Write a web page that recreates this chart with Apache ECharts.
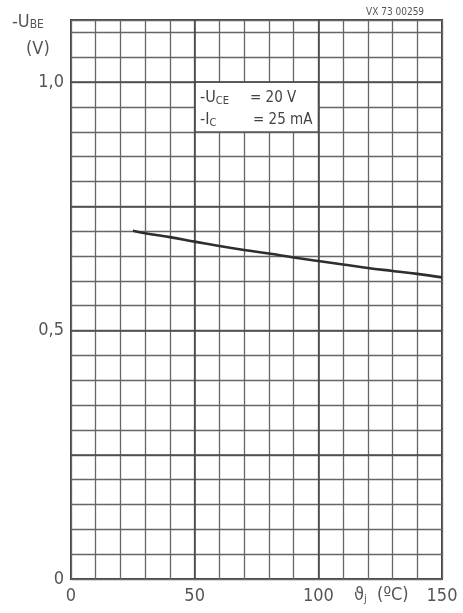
<!DOCTYPE html>
<html><head><meta charset="utf-8">
<script src="https://cdn.jsdelivr.net/npm/echarts@6/dist/echarts.min.js"></script>
<style>html,body{margin:0;padding:0;background:#fff}#c{width:463px;height:613px}</style>
</head><body><div id="c"></div>
<script>
// junction temperature (°C)
const tempC = [25, 30, 40, 50, 60, 70, 80, 90, 100, 110, 120, 130, 140, 150];
// -U_BE (V)
const ubeV = [0.701, 0.696, 0.688, 0.679, 0.670, 0.662, 0.655, 0.647, 0.640, 0.633, 0.626, 0.620, 0.614, 0.607];
const xTickValues = [0, 50, 100, 150];
const xTickLabels = ['0', '50', '100', '150'];
const yTickValues = [0, 0.5, 1.0];
const yTickLabels = ['0', '0,5', '1,0'];
const majorY = [0.25, 0.5, 0.75, 1.0];
const majorX = [50, 100];
const conditionLines = [['-U', 'CE', '= 20 V'], ['-I', 'C', '= 25 mA']];
const conditionBox = [[50, 0.9], [100, 1.0]];

const FONT = '"DejaVu Sans Condensed","Liberation Sans",sans-serif';
const TXT = '#555';
const chart = echarts.init(document.getElementById('c'));

function labelFor(vals, labs, v) {
  for (let i = 0; i < vals.length; i++) if (Math.abs(vals[i] - v) < 1e-9) return labs[i];
  return '';
}

const graphics = [
  { type: 'text', z: 100, left: 12, top: 13, style: { rich: { a: { fontSize: 18, fontFamily: FONT, fill: TXT }, s: { fontSize: 12, fontFamily: FONT, fill: TXT, padding: [6, 0, 0, 0] } }, text: '{a|-U}{s|BE}' } },
  { type: 'text', z: 100, left: 26, top: 40, style: { text: '(V)', fontSize: 18, fontFamily: FONT, fill: TXT } },
  { type: 'text', z: 100, left: 366, top: 7, style: { text: 'VX 73 00259', fontSize: 10, fontFamily: FONT, fill: TXT } },
  { type: 'text', z: 100, left: 354, top: 586, style: { rich: { a: { fontSize: 18, fontFamily: FONT, fill: TXT }, s: { fontSize: 11, fontFamily: FONT, fill: TXT, padding: [8, 0, 0, 0] } }, text: '{a|ϑ}{s|j}{a|  (ºC)}' } }
];
conditionLines.forEach((ln, i) => {
  graphics.push({ type: 'text', z: 100, left: 200, top: 90 + i * 22, style: { rich: { a: { fontSize: 16, fontFamily: FONT, fill: '#444' }, s: { fontSize: 11, fontFamily: FONT, fill: '#444', padding: [7, 0, 0, 0] } }, text: '{a|' + ln[0] + '}{s|' + ln[1] + '}' } });
  graphics.push({ type: 'text', z: 100, left: 250 + i * 3, top: 91 + i * 22, style: { text: ln[2], fontSize: 15, fontFamily: FONT, fill: '#444' } });
});

chart.setOption({
  animation: false,
  backgroundColor: '#fff',
  grid: { left: 71, right: 21, top: 20, bottom: 34, show: true, borderColor: '#444', borderWidth: 2, backgroundColor: 'transparent' },
  xAxis: {
    type: 'value', min: 0, max: 150, interval: 10,
    axisLine: { show: false }, axisTick: { show: false },
    splitLine: { show: true, lineStyle: { color: '#666', width: 1.3 } },
    axisLabel: { margin: 8, fontSize: 18, fontFamily: FONT, color: TXT, formatter: v => labelFor(xTickValues, xTickLabels, v) }
  },
  yAxis: {
    type: 'value', min: 0, max: 1.125, interval: 0.05,
    axisLine: { show: false }, axisTick: { show: false },
    splitLine: { show: true, lineStyle: { color: '#666', width: 1.3 } },
    axisLabel: { margin: 7, fontSize: 18, fontFamily: FONT, color: TXT, formatter: v => labelFor(yTickValues, yTickLabels, v) }
  },
  graphic: graphics,
  series: [
    {
      type: 'line', data: [], silent: true, z: 3,
      markArea: { silent: true, itemStyle: { color: '#fff', borderColor: '#555', borderWidth: 1.3 },
        data: [[{ coord: conditionBox[0] }, { coord: conditionBox[1] }]] }
    },
    {
      type: 'line', data: [], silent: true, z: 4,
      markLine: { silent: true, symbol: ['none', 'none'], label: { show: false },
        lineStyle: { color: '#4a4a4a', width: 1.6, type: 'solid' },
        data: majorY.map(v => ({ yAxis: v })).concat(majorX.map(v => ({ xAxis: v }))) }
    },
    {
      type: 'line', z: 5, smooth: 0.4, showSymbol: false, symbol: 'none',
      data: tempC.map((t, i) => [t, ubeV[i]]),
      lineStyle: { color: '#2e2e2e', width: 2.6 }
    }
  ]
});
</script></body></html>
